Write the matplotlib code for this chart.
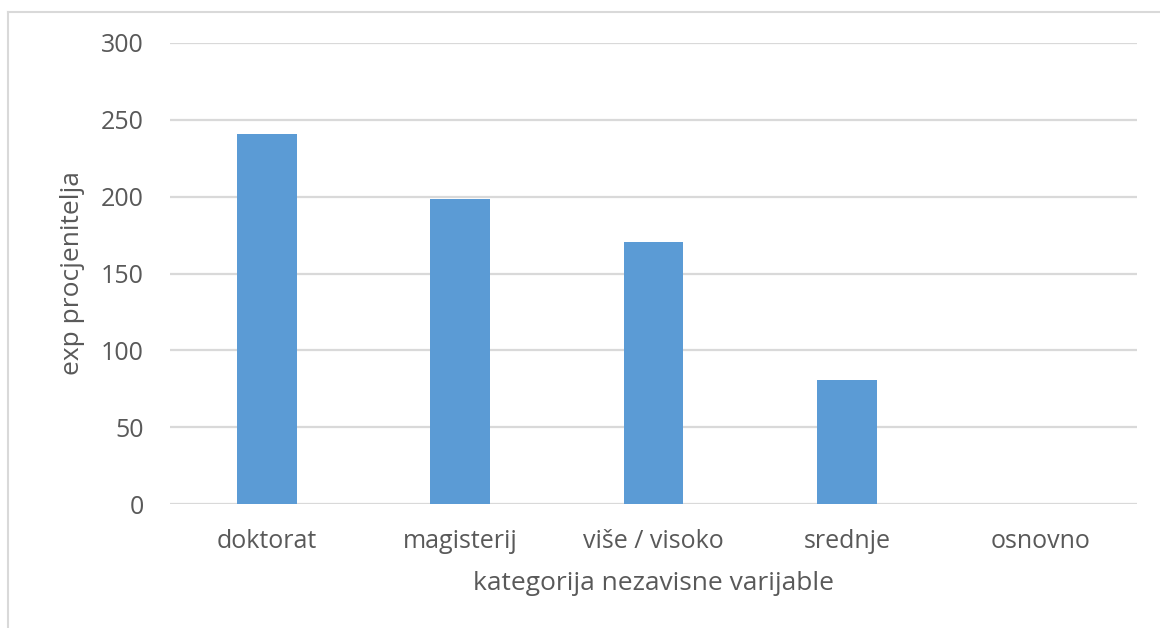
import matplotlib
matplotlib.use("Agg")
import matplotlib.pyplot as plt
from matplotlib.lines import Line2D

# podaci
kategorije = ["doktorat", "magisterij", "više / visoko", "srednje", "osnovno"]
vrijednosti = [240.7, 198.4, 170.5, 80.7, 0.0]
y_ticks = [0, 50, 100, 150, 200, 250, 300]

BAR_COLOR = "#5B9BD5"
GRID_COLOR = "#D9D9D9"
TEXT_COLOR = "#595959"

plt.rcParams["font.family"] = ["Open Sans", "DejaVu Sans"]

fig = plt.figure(figsize=(11.6, 6.28), dpi=100)
ax = fig.add_axes([170 / 1160, 1 - 504 / 628, (1137 - 170) / 1160, (504 - 43) / 628])

x = range(len(kategorije))
ax.bar(x, vrijednosti, width=0.31, color=BAR_COLOR, zorder=3)

ax.set_xlim(-0.5, len(kategorije) - 0.5)
ax.set_ylim(0, 300)
ax.set_yticks(y_ticks)
ax.set_xticks(list(x))
ax.set_xticklabels(kategorije)
ax.yaxis.grid(True, color=GRID_COLOR, lw=1.6, zorder=0)
ax.set_axisbelow(True)
for s in ax.spines.values():
    s.set_visible(False)
ax.tick_params(axis="both", length=0, colors=TEXT_COLOR, labelsize=18)
ax.tick_params(axis="y", pad=19)
ax.tick_params(axis="x", pad=18)

ax.set_xlabel("kategorija nezavisne varijable", fontsize=19, color=TEXT_COLOR, labelpad=12)
ax.set_ylabel("exp procjenitelja", fontsize=19, color=TEXT_COLOR, labelpad=11)

# okvir grafikona (gore i lijevo)
fig.add_artist(Line2D([8 / 1160, 1], [1 - 11.5 / 628] * 2, color=GRID_COLOR, lw=1.5))
fig.add_artist(Line2D([8 / 1160] * 2, [0, 1 - 11.5 / 628], color=GRID_COLOR, lw=1.5))

fig.savefig("out.png", dpi=100, facecolor="white")
